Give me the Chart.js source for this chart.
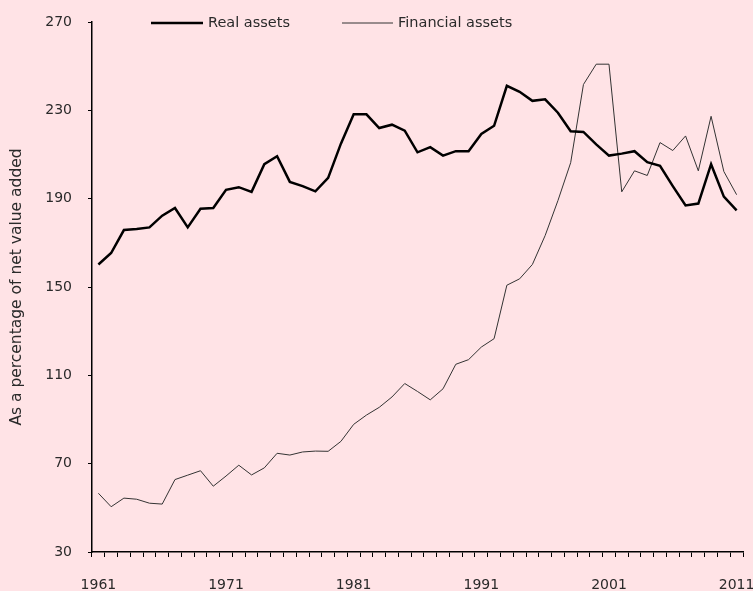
<!DOCTYPE html>
<html>
<head>
<meta charset="utf-8">
<script src="https://cdn.jsdelivr.net/npm/chart.js@4/dist/chart.umd.min.js"></script>
<style>
html,body{margin:0;padding:0;background:#FFE3E6;}
#wrap{width:753px;height:591px;position:relative;}
</style>
</head>
<body>
<div id="wrap"><canvas id="c"></canvas></div>
<script>
const years = [];
for (let y = 1961; y <= 2011; y++) years.push(String(y));
const tickYears = ['1961','1971','1981','1991','2001','2011'];
const realAssets = [160.2,165.4,175.8,176.3,177.0,182.3,185.8,177.0,185.4,185.8,
  194.0,195.2,193.1,205.6,209.2,197.6,195.7,193.3,199.4,214.9,
  228.2,228.2,222.0,223.5,220.8,211.0,213.3,209.5,211.5,211.5,
  219.3,223.0,241.1,238.4,234.3,235.0,228.9,220.5,220.2,214.6,
  209.5,210.4,211.5,206.5,204.9,195.7,186.9,187.8,205.6,190.9,184.7];
const financialAssets = [56.6,50.5,54.4,53.9,52.1,51.7,62.8,64.8,66.8,59.8,
  64.4,69.3,64.9,68.1,74.7,73.9,75.3,75.7,75.6,80.1,
  87.8,92.0,95.5,100.2,106.3,102.7,98.9,103.9,115.0,117.1,
  122.8,126.6,150.8,153.7,160.2,173.3,189.1,206.3,241.7,250.9,
  250.9,193.1,202.6,200.5,215.4,211.8,218.4,202.6,227.3,202.3,191.8];
const seriesNames = ['Real assets','Financial assets'];
const yTicks = [30,70,110,150,190,230,270];

const FONT = 'DejaVu Sans';
const TXT = '#2a2a2a';

const legendPlugin = {
  id: 'manualLegend',
  afterDraw(chart) {
    const ctx = chart.ctx;
    const y = chart.chartArea.top + 1;
    const items = [{x: 151, w: 52}, {x: 342, w: 51}];
    ctx.save();
    ctx.font = '14.5px "' + FONT + '"';
    ctx.textBaseline = 'middle';
    chart.data.datasets.forEach((ds, i) => {
      const it = items[i];
      ctx.strokeStyle = ds.borderColor;
      ctx.lineWidth = ds.borderWidth;
      ctx.beginPath();
      ctx.moveTo(it.x, y);
      ctx.lineTo(it.x + it.w, y);
      ctx.stroke();
      ctx.fillStyle = TXT;
      ctx.fillText(ds.label, it.x + it.w + 5, y);
    });
    ctx.restore();
  }
};

new Chart(document.getElementById('c'), {
  type: 'line',
  data: {
    labels: years,
    datasets: [
      {label: seriesNames[0], data: realAssets, borderColor: '#000000', borderWidth: 2.5, pointRadius: 0, tension: 0, fill: false},
      {label: seriesNames[1], data: financialAssets, borderColor: '#333333', borderWidth: 1, pointRadius: 0, tension: 0, fill: false}
    ]
  },
  options: {
    responsive: true,
    maintainAspectRatio: false,
    animation: false,
    layout: {padding: {top: 22, left: 8, right: 10, bottom: 0}},
    plugins: {legend: {display: false}, tooltip: {enabled: false}},
    scales: {
      x: {
        type: 'category',
        offset: true,
        afterFit: (s) => { s.height = 39; s.paddingLeft = 0; s.paddingRight = 0; },
        grid: {display: true, offset: true, drawOnChartArea: false, tickLength: 5, color: '#000', lineWidth: 1},
        border: {display: true, color: '#000', width: 1.5},
        ticks: {
          autoSkip: false, maxRotation: 0, padding: 20, color: TXT,
          font: {family: FONT, size: 14},
          callback: function(v, i) { const l = this.getLabelForValue(v); return tickYears.includes(l) ? l : ''; }
        }
      },
      y: {
        min: 30, max: 270,
        afterBuildTicks: (axis) => { axis.ticks = yTicks.map(v => ({value: v})); },
        afterFit: (s) => { s.width = 84; s.paddingBottom = 0; s.paddingTop = 0; },
        grid: {display: true, drawOnChartArea: false, tickLength: 4, color: '#000'},
        border: {display: true, color: '#000', width: 1.5},
        ticks: {padding: 16, color: TXT, font: {family: FONT, size: 14}},
        title: {display: true, text: 'As a percentage of net value added', color: TXT, font: {family: FONT, size: 15.5}, padding: {top: 0, bottom: 14}}
      }
    }
  },
  plugins: [legendPlugin]
});
</script>
</body>
</html>
